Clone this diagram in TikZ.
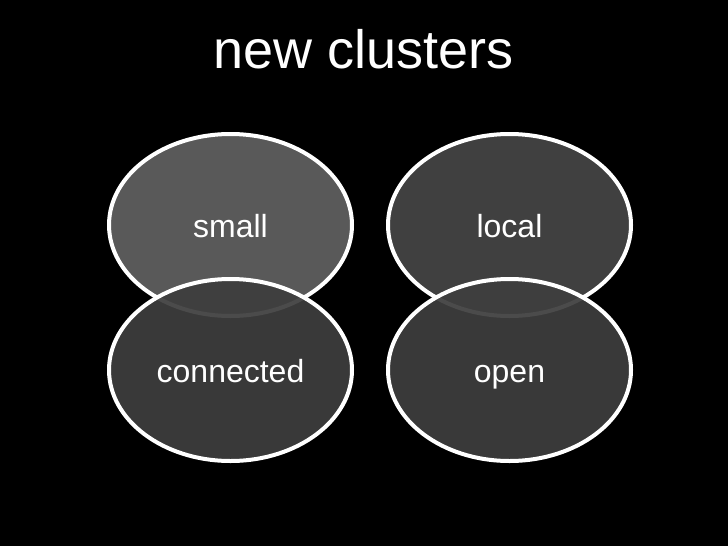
\documentclass[tikz,border=0pt]{standalone}
\usepackage{fontspec}
\setmainfont{Liberation Sans}
\usetikzlibrary{shapes.geometric}
\definecolor{topA}{RGB}{89,89,89}
\definecolor{topB}{RGB}{64,64,64}
\definecolor{botC}{RGB}{62,62,62}
\tikzset{
  blob/.style={ellipse, draw=white, line width=3pt, inner sep=0pt,
    minimum width=182.25pt, minimum height=136.5pt,
    text=white, font=\fontsize{24}{28}\selectfont,
    text height=18pt, text depth=0pt},
  lower/.style={blob, fill=botC, fill opacity=0.93, draw opacity=1, text opacity=1}
}
\begin{document}
\begin{tikzpicture}[x=0.75pt,y=-0.75pt]
\fill[black] (0,0) rectangle (728,546);
\node[anchor=base, text=white, font=\fontsize{40.5}{48}\selectfont] (title) at (364,68) {new clusters};
\node[blob, fill=topA] (small) at (230.5,225) {small};
\node[blob, fill=topB] (local) at (509.5,225) {local};
\node[lower] (connected) at (230.5,370) {connected};
\node[lower] (open) at (509.5,370) {open};
\end{tikzpicture}
\end{document}
